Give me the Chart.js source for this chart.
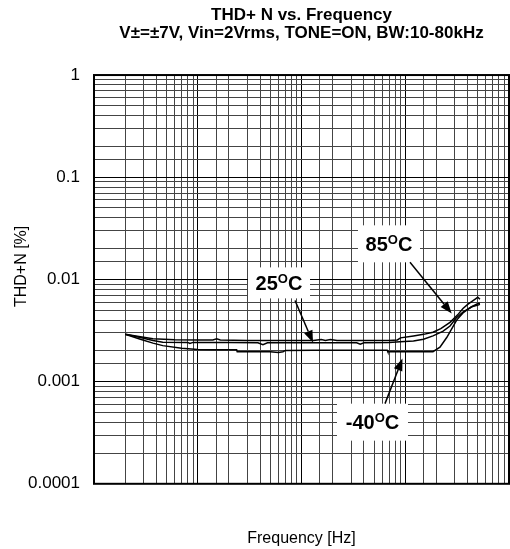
<!DOCTYPE html>
<html>
<head>
<meta charset="utf-8">
<script src="https://cdn.jsdelivr.net/npm/chart.js@4.4.1/dist/chart.umd.min.js"></script>
<style>
  html, body { margin: 0; padding: 0; background: #fff; }
</style>
</head>
<body>
<canvas id="thdChart" width="510" height="549"></canvas>
<script>
// THD+N vs frequency
const freq85 = [20, 28, 37, 60, 100, 140, 152, 165, 300, 600, 1000, 1300, 1550, 1700, 1900, 2200, 4000, 7000, 8400, 9000, 12000, 15000, 18500, 22000, 27000, 32000, 36000, 40000, 44000, 48000, 50000, 52500];
const thd85 = [0.0029, 0.00275, 0.00262, 0.00257, 0.00256, 0.00256, 0.00262, 0.00255, 0.00252, 0.00252, 0.00252, 0.00252, 0.00258, 0.00253, 0.00258, 0.00252, 0.00252, 0.00253, 0.00256, 0.00268, 0.0028, 0.0029, 0.00304, 0.0033, 0.0038, 0.0045, 0.0052, 0.0057, 0.0061, 0.0065, 0.0067, 0.0064];

const freq25 = [20, 28, 37, 46, 80, 84, 90, 100, 200, 380, 425, 470, 700, 1300, 3400, 3685, 4000, 7000, 8900, 12000, 15000, 18500, 23000, 27000, 31000, 36000, 43700, 50200, 52500];
const thd25 = [0.0029, 0.0027, 0.00252, 0.00243, 0.00242, 0.00236, 0.00242, 0.00242, 0.00242, 0.0024, 0.0023, 0.0024, 0.0024, 0.0024, 0.0024, 0.00232, 0.0024, 0.00242, 0.00245, 0.0025, 0.0026, 0.0028, 0.0031, 0.0035, 0.0042, 0.0048, 0.0054, 0.0058, 0.0058];

const freqM40 = [20, 28, 37, 46, 70, 100, 150, 237, 240, 500, 600, 663, 700, 1300, 3000, 6700, 6800, 12000, 18500, 21600, 25100, 31300, 36000, 39100, 43700, 50200, 52500];
const thdM40 = [0.0029, 0.0026, 0.00238, 0.00225, 0.00212, 0.00206, 0.00205, 0.00205, 0.00196, 0.00196, 0.00193, 0.00196, 0.00202, 0.00203, 0.00203, 0.00203, 0.00196, 0.00196, 0.00196, 0.00217, 0.0027, 0.004, 0.0047, 0.005, 0.0054, 0.0056, 0.0057];

const yTickLabels = ['1', '0.1', '0.01', '0.001', '0.0001'];
const yTitle = 'THD+N [%]';

// callouts: label text, box centre and arrow tail/tip, all in data units
const callouts = [
  { num: '25', box: [607, 0.00925], w: 62, h: 31, tail: [866, 0.00622], tip: [1291, 0.00241] },
  { num: '85', box: [6970, 0.0223], w: 62, h: 37, tail: [11110, 0.0147], tip: [28050, 0.00464] },
  { num: '-40', box: [4833, 0.000401], w: 71, h: 37, tail: [6380, 0.000609], tip: [9400, 0.00168] }
];

const FONT = "'Liberation Sans', Arial, sans-serif";

function pts(xs, ys) {
  return xs.map((x, i) => ({ x: x, y: ys[i] }));
}

function isDecade(v) {
  const e = Math.log10(v);
  return Math.abs(e - Math.round(e)) < 1e-9;
}

function arrow(ctx, x1, y1, x2, y2) {
  const a = Math.atan2(y2 - y1, x2 - x1);
  const len = 12, half = 4.5;
  const bx = x2 - len * Math.cos(a), by = y2 - len * Math.sin(a);
  ctx.beginPath();
  ctx.moveTo(x1, y1);
  ctx.lineTo(bx, by);
  ctx.lineWidth = 1.5;
  ctx.strokeStyle = '#000';
  ctx.stroke();
  ctx.beginPath();
  ctx.moveTo(x2, y2);
  ctx.lineTo(bx + half * Math.sin(a), by - half * Math.cos(a));
  ctx.lineTo(bx - half * Math.sin(a), by + half * Math.cos(a));
  ctx.closePath();
  ctx.fillStyle = '#000';
  ctx.fill();
}

const calloutPlugin = {
  id: 'callouts',
  afterDatasetsDraw(chart) {
    const ctx = chart.ctx;
    const xs = chart.scales.x, ys = chart.scales.y;
    const a = chart.chartArea;
    ctx.save();
    // frame
    ctx.strokeStyle = '#000';
    ctx.lineWidth = 2;
    ctx.strokeRect(a.left, a.top, a.right - a.left, a.bottom - a.top);

    // y axis title, sits a bit above the plot centre in the original
    ctx.save();
    ctx.translate(22, (a.top + a.bottom) / 2 - 13);
    ctx.rotate(-Math.PI / 2);
    ctx.font = '16px ' + FONT;
    ctx.fillStyle = '#000';
    ctx.textAlign = 'center';
    ctx.textBaseline = 'middle';
    ctx.fillText(yTitle, 0, 0);
    ctx.restore();

    callouts.forEach(c => {
      const cx = xs.getPixelForValue(c.box[0]);
      const cy = ys.getPixelForValue(c.box[1]);
      ctx.fillStyle = '#fff';
      ctx.fillRect(cx - c.w / 2, cy - c.h / 2, c.w, c.h);

      const big = 'bold 20px ' + FONT, small = 'bold 13px ' + FONT;
      ctx.font = big;
      const w1 = ctx.measureText(c.num).width;
      const w3 = ctx.measureText('C').width;
      ctx.font = small;
      const w2 = ctx.measureText('O').width;
      let x = cx - (w1 + w2 + w3) / 2;
      const base = cy + 7;
      ctx.fillStyle = '#000';
      ctx.textBaseline = 'alphabetic';
      ctx.textAlign = 'left';
      ctx.font = big;
      ctx.fillText(c.num, x, base);
      x += w1;
      ctx.font = small;
      ctx.fillText('O', x, base - 7);
      x += w2;
      ctx.font = big;
      ctx.fillText('C', x, base);

      arrow(ctx,
        xs.getPixelForValue(c.tail[0]), ys.getPixelForValue(c.tail[1]),
        xs.getPixelForValue(c.tip[0]), ys.getPixelForValue(c.tip[1]));
    });
    ctx.restore();
  }
};

function gridColor(c) {
  const t = c.tick;
  if (!t) return '#444';
  return isDecade(t.value) ? '#000' : '#444';
}

const lineStyle = {
  borderColor: '#000',
  borderWidth: 1.5,
  pointRadius: 0,
  fill: false,
  tension: 0
};

new Chart(document.getElementById('thdChart'), {
  type: 'line',
  data: {
    datasets: [
      Object.assign({ label: '85°C', data: pts(freq85, thd85) }, lineStyle),
      Object.assign({ label: '25°C', data: pts(freq25, thd25) }, lineStyle),
      Object.assign({ label: '-40°C', data: pts(freqM40, thdM40) }, lineStyle)
    ]
  },
  options: {
    responsive: false,
    devicePixelRatio: 1,
    animation: false,
    layout: { padding: { left: 0, right: 1, top: 0, bottom: 0 } },
    plugins: {
      legend: { display: false },
      tooltip: { enabled: false },
      title: {
        display: true,
        fullSize: false,
        text: ['THD+ N vs. Frequency', 'V±=±7V, Vin=2Vrms, TONE=ON, BW:10-80kHz'],
        color: '#000',
        font: { family: FONT, size: 17, weight: 'bold', lineHeight: 1.06 },
        padding: { top: 6, bottom: 33 }
      }
    },
    scales: {
      x: {
        type: 'logarithmic',
        min: 10,
        max: 100000,
        ticks: { display: false },
        grid: { color: gridColor, lineWidth: 1, drawTicks: false },
        border: { display: false },
        title: {
          display: true,
          text: 'Frequency [Hz]',
          color: '#000',
          font: { family: FONT, size: 16 },
          padding: { top: 45, bottom: 1 }
        }
      },
      y: {
        type: 'logarithmic',
        min: 0.0001,
        max: 1,
        afterFit: function (scale) { scale.width = 94; },
        ticks: {
          autoSkip: false,
          color: '#000',
          padding: 14,
          font: { family: FONT, size: 17 },
          callback: function (v) {
            if (!isDecade(v)) return '';
            const i = Math.round(-Math.log10(v));
            return yTickLabels[i];
          }
        },
        grid: { color: gridColor, lineWidth: 1, drawTicks: false },
        border: { display: false },
        title: { display: false }
      }
    }
  },
  plugins: [calloutPlugin]
});
</script>
</body>
</html>
